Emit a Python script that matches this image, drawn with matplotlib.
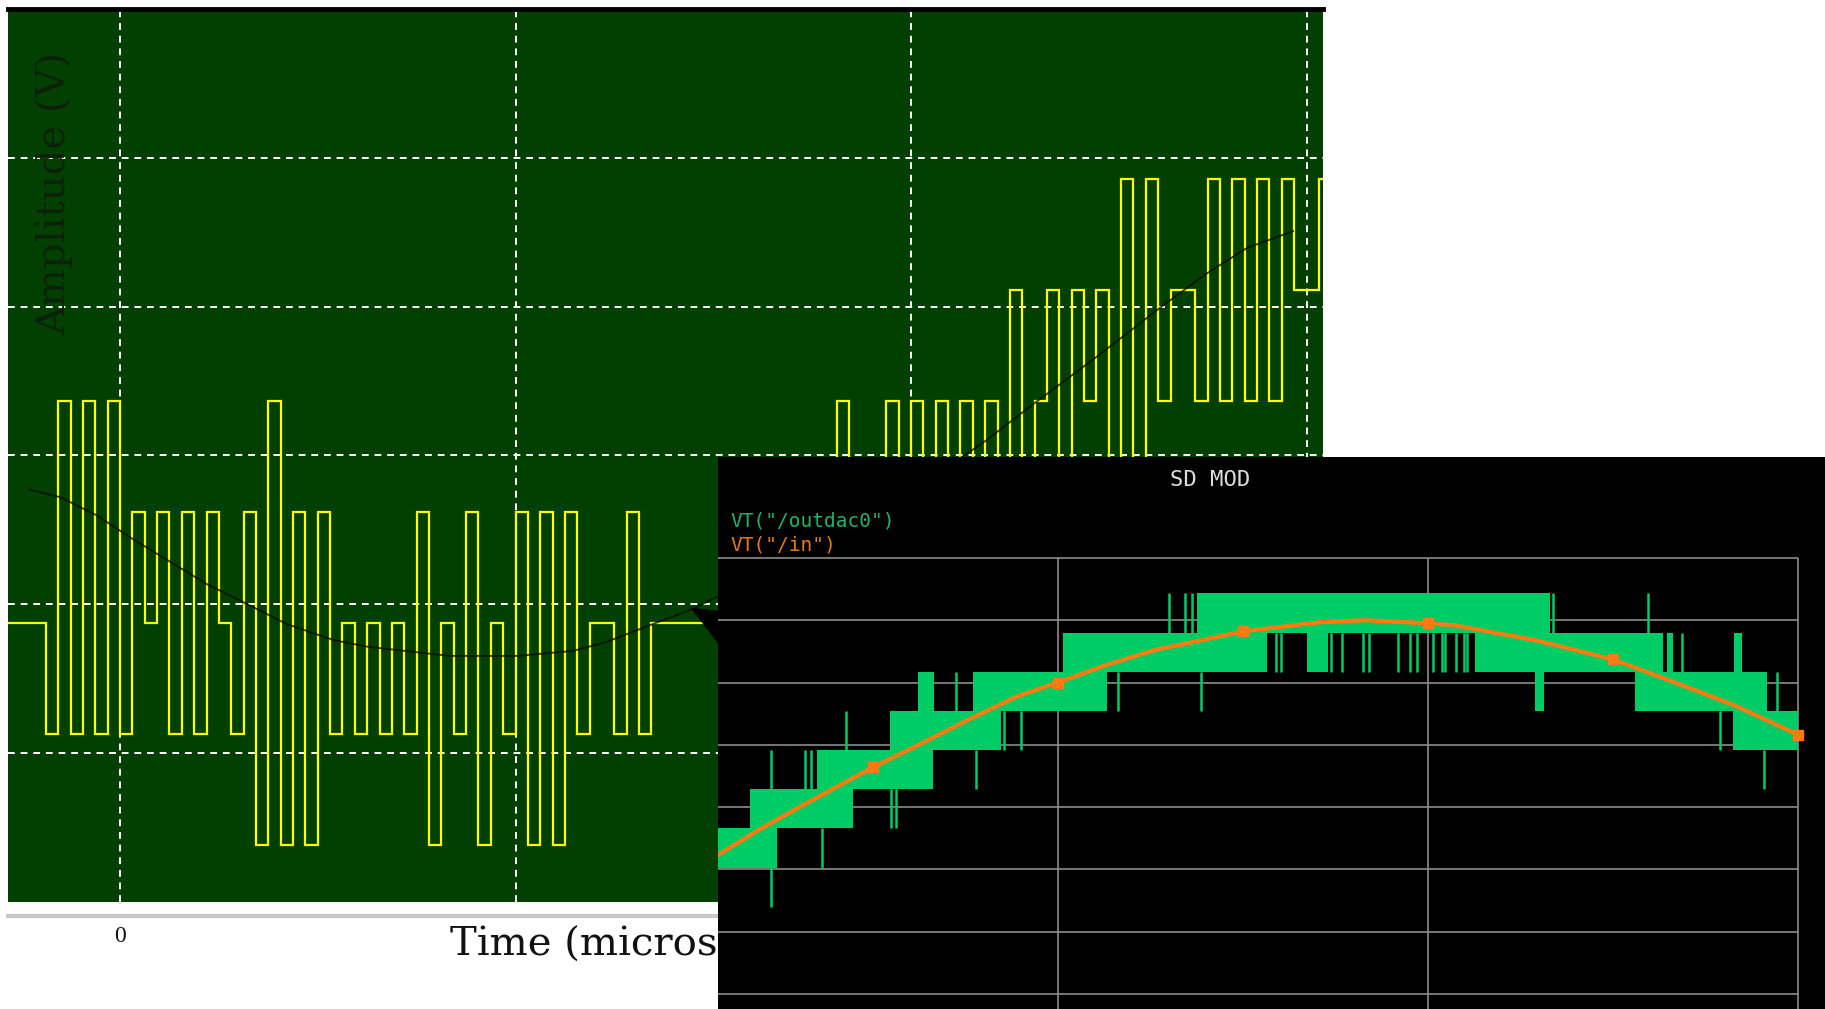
import numpy as np
import matplotlib.pyplot as plt

# scope trace: modulator output, one level per clock, 32 clocks per division
first_clock = -10
scope_levels = [0, 0, 0, 0, -1, 2, -1, 2, -1, 2,
                -1, 1, 0, 1, -1, 1, -1, 1, 0, -1,
                1, -2, 2, -2, 1, -2, 1, -1, 0, -1,
                0, -1, 0, -1, 1, -2, 0, -1, 1, -2,
                0, -1, 1, -2, 1, -2, 1, -1, 0, 0,
                -1, 1, -1, 0, 0, 0, 0, 0, 0, 1,
                0, 1, 0, 1, 1, 0, 1, 1, 2, 1,
                1, 1, 2, 1, 2, 1, 2, 1, 2, 1,
                2, 1, 3, 1, 2, 3, 1, 3, 2, 3,
                1, 4, 1, 4, 2, 3, 3, 2, 4, 2,
                4, 2, 4, 2, 4, 3, 3, 4]
clocks_per_div = 32

# analog input on the scope
input_t = [-0.228, -0.152, -0.059, 0.034, 0.118, 0.219, 0.311, 0.421, 0.539, 0.624,
           0.834, 0.893, 1.003, 1.145, 1.230, 1.348, 1.449, 1.6, 1.8, 2.0,
           2.131, 2.192, 2.301, 2.470, 2.637, 2.748, 2.850, 2.966]
input_v = [1.20, 1.135, 0.97, 0.752, 0.571, 0.351, 0.189, -0.009, -0.153, -0.213,
           -0.297, -0.297, -0.297, -0.252, -0.171, -0.009, 0.126, 0.40, 0.80, 1.22,
           1.50, 1.65, 1.95, 2.40, 2.86, 3.15, 3.38, 3.53]

# SD MOD simulation: DAC output levels (code 0..8)
dac_v = [1.40, 2.03, 2.66, 3.29, 3.92, 4.54, 5.17, 5.80, 6.43]

# dense toggling between two codes
band_start = [0.081, 0.167, 0.350, 0.545, 0.622, 0.770, 1.014, 1.377, 1.672, 2.127,
              2.289, 2.559, 2.645, 2.827, 2.825]
band_end = [0.241, 0.446, 0.662, 0.847, 0.665, 1.132, 1.564, 2.330, 1.731, 2.636,
            2.313, 2.915, 2.663, 2.850, 3.000]
band_lo = [1, 2, 3, 4, 5, 5, 6, 7, 6, 6, 5, 5, 6, 6, 4]
band_hi = [2, 3, 4, 5, 6, 6, 7, 8, 7, 7, 6, 6, 7, 7, 5]

# isolated code excursions
spike_u = [0.225, 0.315, 0.333, 0.362, 0.428, 0.550, 0.563, 0.725, 0.779, 0.854,
           0.899, 1.163, 1.299, 1.344, 1.362, 1.386, 1.589, 1.604, 1.738, 1.767,
           1.823, 1.840, 1.920, 1.951, 1.969, 2.014, 2.037, 2.046, 2.076, 2.096,
           2.106, 2.339, 2.595, 2.687, 2.790, 2.907, 2.942]
spike_lo = [0, 3, 3, 1, 4, 2, 2, 5, 3, 4,
            4, 5, 7, 7, 7, 5, 6, 6, 6, 6,
            6, 6, 6, 6, 6, 6, 6, 6, 6, 6,
            6, 7, 7, 6, 4, 3, 5]
spike_hi = [4, 4, 4, 2, 5, 3, 3, 6, 4, 5,
            5, 6, 8, 8, 8, 6, 7, 7, 7, 7,
            7, 7, 7, 7, 7, 7, 7, 7, 7, 7,
            7, 8, 8, 7, 5, 4, 6]

# VT("/in")
in_u = [0.081, 0.19, 0.31, 0.50, 0.62, 0.75, 0.89, 1.00, 1.13, 1.26,
        1.50, 1.71, 1.83, 2.00, 2.07, 2.29, 2.50, 2.65, 2.83, 3.00]
in_v = [2.23, 2.63, 3.03, 3.64, 3.99, 4.38, 4.78, 5.00, 5.28, 5.52,
        5.82, 5.97, 6.00, 5.95, 5.92, 5.68, 5.37, 5.04, 4.63, 4.16]
in_marks = [3, 7, 10, 13, 16, 19]

W, H = 1825, 1009
fig = plt.figure(figsize=(W / 100, H / 100), dpi=100)
fig.patch.set_facecolor('white')

# ---- oscilloscope ----
ax = fig.add_axes([8 / W, 1 - 902 / H, 1315 / W, 893 / H])
ax.set_facecolor('#014001')
x0, x1 = -0.2832, 3.0417
y0, y1 = -2.514, 5.532
ax.set_xlim(x0, x1)
ax.set_ylim(y0, y1)
ax.set_xticks([0, 1, 2, 3])
ax.set_yticks(np.linspace(y0, y1, 7)[1:-1])
ax.tick_params(length=0, labelbottom=False, labelleft=False)
ax.grid(True, color='white', linestyle=(0, (3.5, 3)), linewidth=1.4)
for side in ['left', 'right', 'bottom']:
    ax.spines[side].set_visible(False)
ax.spines['top'].set_color('black')
ax.spines['top'].set_linewidth(3.5)

edges = np.arange(first_clock, first_clock + len(scope_levels) + 1) / clocks_per_div
ax.stairs(scope_levels, edges, baseline=None, color='#ffff00', linewidth=1.6, zorder=2)
ax.plot(input_t, input_v, color='#0b0b0b', linewidth=1.3, alpha=0.8, zorder=3)

ax.annotate('', xy=(1.436, 0.153), xytext=(1.765, -0.52),
            arrowprops=dict(arrowstyle='-|>,head_length=0.6,head_width=0.25',
                            color='black', lw=1, mutation_scale=50), zorder=4)

ax.text(0.035, 0.794, 'Amplitude (V)', rotation=90, transform=ax.transAxes,
        ha='center', va='center', fontsize=29, family='DejaVu Serif', color='#0c220a')
ax.plot([0, 1], [-0.0157, -0.0157], transform=ax.transAxes, clip_on=False,
        color='#c8c8c8', linewidth=3)
ax.text(0, -0.039, '0', transform=ax.get_xaxis_transform(), ha='center', va='center',
        fontsize=17, family='Liberation Serif', color='#111111')
ax.text(0.336, -0.048, 'Time (microseconds)', transform=ax.transAxes, ha='left',
        va='center', fontsize=29, family='DejaVu Serif', color='#111111', clip_on=False)

# ---- SD MOD simulation window ----
sd = fig.add_axes([718 / W, 0, 1107 / W, 552 / H], zorder=5)
sd.set_facecolor('black')
u0, u1 = 0.0811, 3.073
v0, v1 = -0.241, 8.62
sd.set_xlim(u0, u1)
sd.set_ylim(v0, v1)
sd.set_xticks([])
sd.set_yticks([])
for s in sd.spines.values():
    s.set_visible(False)

sd.hlines(range(8), u0, 3.0, color='#8c8c8c', linewidth=1.2, zorder=1)
sd.vlines([1, 2, 3], v0, 7, color='#8c8c8c', linewidth=1.2, zorder=1)

green = '#00cc66'
lo_v = np.array(dac_v)[band_lo]
hi_v = np.array(dac_v)[band_hi]
sd.bar(band_start, hi_v - lo_v, width=np.array(band_end) - np.array(band_start),
       bottom=lo_v, align='edge', color=green, linewidth=0, zorder=2)
sd.vlines(spike_u, np.array(dac_v)[spike_lo], np.array(dac_v)[spike_hi],
          color=green, linewidth=1.8, zorder=2)

sd.plot(in_u, in_v, color='#ff7b0f', linewidth=3, marker='s', markersize=6.5,
        markevery=in_marks, zorder=3)

sd.text(1.411, 8.25, 'SD MOD', color='#dcdcdc', fontsize=16,
        family='DejaVu Sans Mono', ha='center', va='center')
sd.text(0.1135, 7.59, 'VT("/outdac0")', color='#1fb36b', fontsize=14,
        family='DejaVu Sans Mono', ha='left', va='center')
sd.text(0.1135, 7.21, 'VT("/in")', color='#e67a1a', fontsize=14,
        family='DejaVu Sans Mono', ha='left', va='center')

fig.savefig('out.png', dpi=100)
